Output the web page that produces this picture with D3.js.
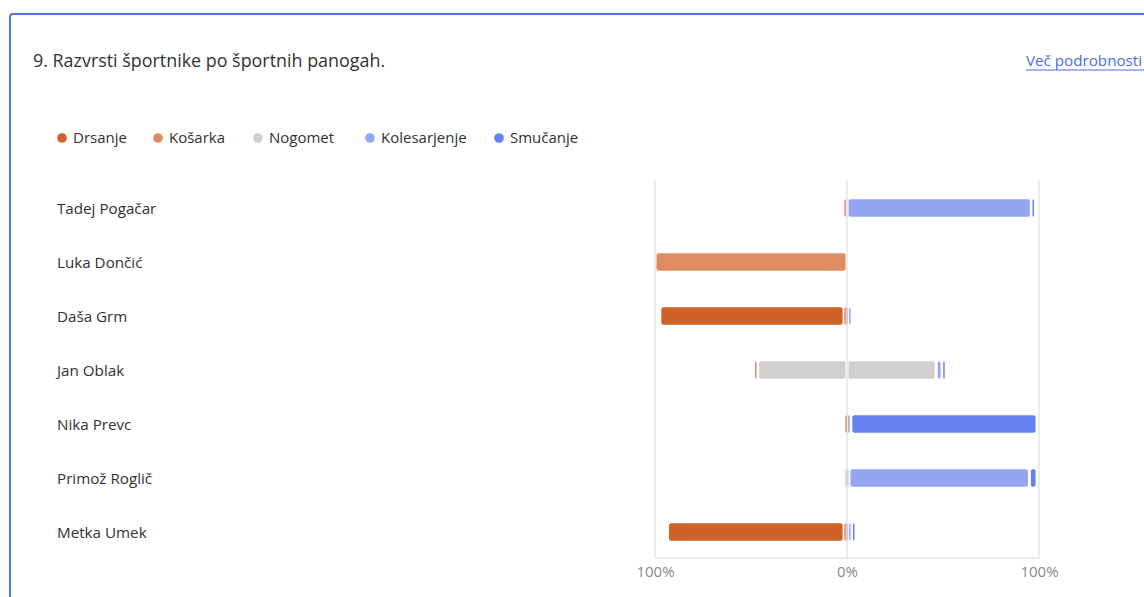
<!DOCTYPE html>
<html>
<head>
<meta charset="utf-8">
<script src="https://cdn.jsdelivr.net/npm/d3@7/dist/d3.min.js"></script>
<style>
  html, body { margin: 0; padding: 0; background: #fff; }
  svg { display: block; }
</style>
</head>
<body>
<svg id="chart" width="1144" height="597"></svg>
<script>
// ---- data ----
const athletes = ["Tadej Pogačar", "Luka Dončić", "Daša Grm", "Jan Oblak", "Nika Prevc", "Primož Roglič", "Metka Umek"];
const categories = ["Drsanje", "Košarka", "Nogomet", "Kolesarjenje", "Smučanje"];
const colors = ["#D06228", "#DF8C63", "#D1D0CE", "#94A6F2", "#6580F0"];
// percentages per athlete, in category order
const drsanje      = [0,   0, 96,  0,  0,  0, 92];
const kosarka      = [2, 100,  1,  2,  1,  0,  1];
const nogomet      = [0,   0,  1, 93,  0,  2,  1];
const kolesarjenje = [96,  0,  2,  3,  2, 94,  2];
const smucanje     = [2,   0,  0,  2, 97,  4,  2];
const tickValues = [-100, 0, 100];
const tickLabels = ["100%", "0%", "100%"];
const title = "9. Razvrsti športnike po športnih panogah.";
const linkText = "Več podrobnosti";

const seriesValues = [drsanje, kosarka, nogomet, kolesarjenje, smucanje];

const svg = d3.select("#chart");
const FONT = "'Open Sans', 'Noto Sans', sans-serif";

// card border
svg.append("path")
  .attr("d", "M10,597 L10,17 Q10,14 13,14 L1144,14")
  .attr("fill", "none").attr("stroke", "#4D78D8").attr("stroke-width", 2);

// title
svg.append("text").attr("x", 33).attr("y", 67)
  .attr("font-family", FONT).attr("font-size", 17.9).attr("fill", "#323130")
  .text(title);

// link
svg.append("text").attr("x", 1026).attr("y", 66)
  .attr("font-family", FONT).attr("font-size", 15.2).attr("fill", "#4F6BED")
  .text(linkText);
svg.append("line").attr("x1", 1026).attr("x2", 1144).attr("y1", 70).attr("y2", 70)
  .attr("stroke", "#4F6BED").attr("stroke-width", 1);

// legend
const legendX = [62, 158, 258, 370, 499];
const legend = svg.append("g");
categories.forEach((c, i) => {
  const g = legend.append("g").attr("transform", `translate(${legendX[i]},138)`);
  g.append("circle").attr("r", 4.8).attr("fill", colors[i]);
  g.append("text").attr("x", 11).attr("y", 5.2).attr("font-family", FONT)
    .attr("font-size", 15).attr("fill", "#323130").text(c);
});

// scales
const x = d3.scaleLinear().domain([-100, 100]).range([655, 1039]);
const y = d3.scaleBand().domain(athletes).range([181, 559]).paddingInner(0.68).paddingOuter(0.34);

// grid
const grid = svg.append("g");
tickValues.forEach(v => {
  grid.append("line").attr("x1", x(v)).attr("x2", x(v)).attr("y1", 180).attr("y2", 558)
    .attr("stroke", "#E6E6E6").attr("stroke-width", 1.5);
});
grid.append("line").attr("x1", x(-100)).attr("x2", x(100)).attr("y1", 558).attr("y2", 558)
  .attr("stroke", "#E6E6E6").attr("stroke-width", 1.5);

// axis labels
const axis = d3.axisBottom(x).tickValues(tickValues).tickSize(0)
  .tickFormat((d, i) => tickLabels[i]);
const ax = svg.append("g").attr("transform", "translate(0,559)").call(axis);
ax.select(".domain").remove();
ax.selectAll("text").attr("font-family", FONT).attr("font-size", 15)
  .attr("fill", "#8A8886").attr("dy", "1.0em");

// row labels
svg.append("g").selectAll("text").data(athletes).join("text")
  .attr("x", 57).attr("y", d => y(d) + y.bandwidth() / 2 + 5.5)
  .attr("font-family", FONT).attr("font-size", 15.2).attr("fill", "#323130")
  .text(d => d);

// build diverging segments
const segs = [];
athletes.forEach((a, ai) => {
  const v = seriesValues.map(s => s[ai]);
  const half = v[2] / 2;
  let left = -half;
  segs.push({a, ci: 2, x0: -half, x1: 0});
  segs.push({a, ci: 1, x0: left - v[1], x1: left}); left -= v[1];
  segs.push({a, ci: 0, x0: left - v[0], x1: left});
  let right = half;
  segs.push({a, ci: 2, x0: 0, x1: half});
  segs.push({a, ci: 3, x0: right, x1: right + v[3]}); right += v[3];
  segs.push({a, ci: 4, x0: right, x1: right + v[4]});
});

const inset = 1.5;
svg.append("g").selectAll("rect").data(segs.filter(s => s.x1 - s.x0 > 0)).join("rect")
  .attr("x", d => {
    const w = x(d.x1) - x(d.x0);
    return w - 2 * inset < 1.5 ? (x(d.x0) + x(d.x1)) / 2 - 0.75 : x(d.x0) + inset;
  })
  .attr("width", d => Math.max(1.5, x(d.x1) - x(d.x0) - 2 * inset))
  .attr("y", d => y(d.a))
  .attr("height", y.bandwidth())
  .attr("rx", 2)
  .attr("fill", d => colors[d.ci]);
</script>
</body>
</html>
